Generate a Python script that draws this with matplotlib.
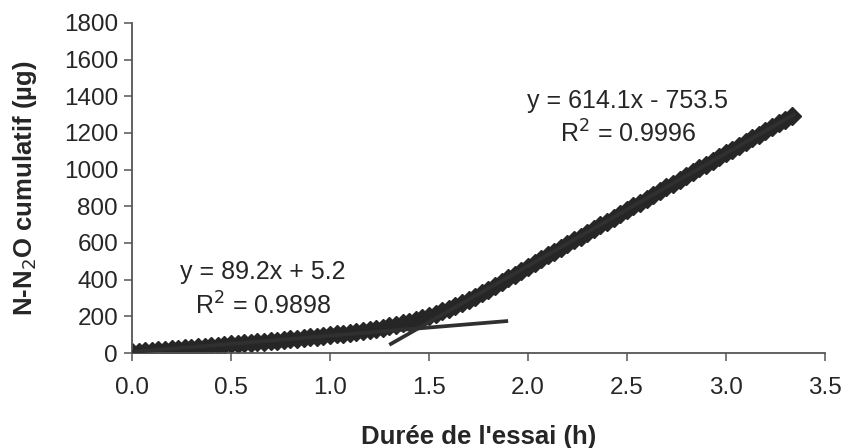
import matplotlib
matplotlib.use('Agg')
import matplotlib.pyplot as plt
import numpy as np

plt.rcParams['font.family'] = ['Liberation Sans', 'DejaVu Sans']

# sampling every 2 min, converted to hours
minutes = list(range(0, 202, 2))
n2o = [5, 8, 11, 13, 16, 19, 21, 24, 27, 29,
       32, 35, 38, 41, 44, 47, 50, 53, 56, 59,
       62, 65, 68, 72, 75, 78, 82, 85, 89, 93,
       97, 101, 105, 110, 115, 120, 126, 132, 139, 146,
       154, 162, 171, 181, 191, 202, 214, 227, 241, 256,
       272, 289, 307, 326, 346, 366, 387, 407, 428, 449,
       470, 491, 511, 532, 552, 573, 594, 614, 635, 655,
       676, 697, 717, 738, 758, 779, 800, 820, 841, 861,
       882, 903, 923, 944, 964, 985, 1006, 1026, 1047, 1067,
       1088, 1109, 1129, 1150, 1170, 1191, 1212, 1232, 1253, 1273,
       1294]

# trend lines (slope, intercept, x range)
fit1 = (89.2, 5.2, 0.0, 1.9)
fit2 = (614.1, -753.5, 1.3, 3.35)
eq1 = 'y = 89.2x + 5.2\nR$^2$ = 0.9898'
eq2 = 'y = 614.1x - 753.5\nR$^2$ = 0.9996'

hours = np.array(minutes) / 60.0
dark = '#262626'

fig = plt.figure(figsize=(8.46, 4.48), dpi=100)
ax = fig.add_axes([0.156, 0.212, 0.819, 0.737])

ax.plot(hours, n2o, linestyle='None', marker='D', markersize=8.8,
        color=dark, mec=dark, zorder=2)

for slope, icpt, x0, x1 in (fit1, fit2):
    xs = np.array([x0, x1])
    ax.plot(xs, slope * xs + icpt, color='#303030', linewidth=2.7,
            solid_capstyle='butt', zorder=3)

ax.set_xlim(0, 3.5)
ax.set_ylim(0, 1800)
ax.set_xticks(np.arange(0, 3.51, 0.5))
ax.set_yticks(np.arange(0, 1801, 200))
ax.set_xticklabels(['%.1f' % v for v in np.arange(0, 3.51, 0.5)])

for s in ['top', 'right']:
    ax.spines[s].set_visible(False)
for s in ['left', 'bottom']:
    ax.spines[s].set_color('#555555')
    ax.spines[s].set_linewidth(1.3)

ax.tick_params(axis='both', labelsize=17.5, colors='#555555', labelcolor=dark,
               length=6, width=1.1, direction='out')
ax.tick_params(axis='x', pad=11)
ax.tick_params(axis='y', pad=4)

ax.text(0.66, 345, eq1, ha='center', va='center', fontsize=18,
        color=dark, linespacing=1.4)
ax.text(2.505, 1280, eq2, ha='center', va='center', fontsize=18,
        color=dark, linespacing=1.3)

ax.set_xlabel("Durée de l'essai (h)", fontsize=18.5, fontweight='bold',
              color=dark, labelpad=19)
ax.set_ylabel('N-N$_2$O cumulatif (µg)', fontsize=18.5, fontweight='bold',
              color=dark, labelpad=18)

fig.savefig('out.png', dpi=100)
